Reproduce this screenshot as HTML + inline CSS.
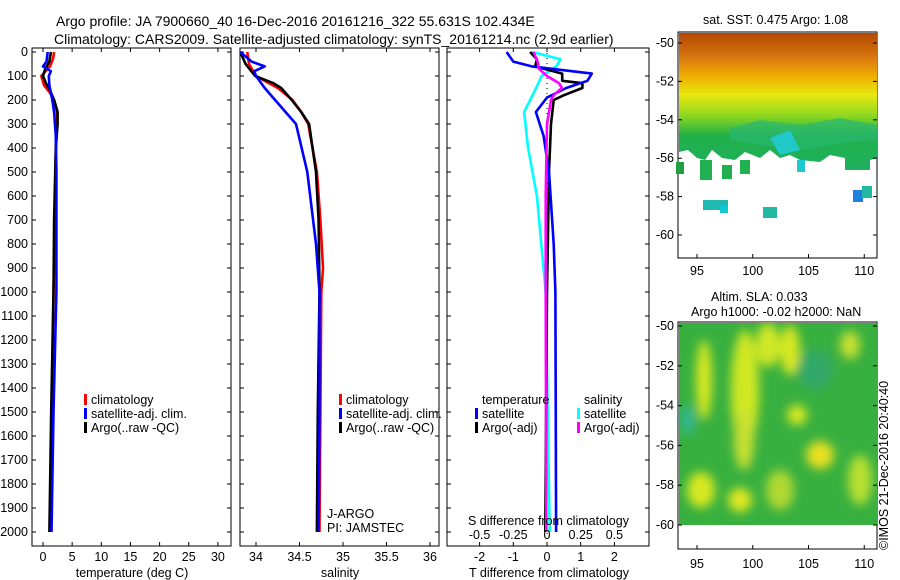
<!DOCTYPE html>
<html><head><meta charset="utf-8"><style>
html,body{margin:0;padding:0;background:#fff}
svg{display:block;font-family:"Liberation Sans",sans-serif}
text{font-size:12.5px;fill:#000}
</style></head><body>
<svg id="c" width="900" height="580" viewBox="0 0 900 580" xmlns="http://www.w3.org/2000/svg">
<defs>
<linearGradient id="sstg" x1="0" y1="0" x2="0" y2="1">
<stop offset="0" stop-color="#b44800"/><stop offset="0.18" stop-color="#d87810"/><stop offset="0.32" stop-color="#f0b000"/><stop offset="0.45" stop-color="#e8e810"/><stop offset="0.6" stop-color="#90d820"/><stop offset="0.75" stop-color="#20b048"/><stop offset="1" stop-color="#20b060"/>
</linearGradient>
<filter id="blur"><feGaussianBlur stdDeviation="5"/></filter>
<clipPath id="lowclip"><rect x="678" y="322" width="199" height="203"/></clipPath>
</defs>
<text x="56" y="26" style="font-size:14px">Argo profile: JA 7900660_40 16-Dec-2016 20161216_322 55.631S 102.434E</text>
<text x="54" y="44" style="font-size:14px">Climatology: CARS2009. Satellite-adjusted climatology: synTS_20161214.nc (2.9d earlier)</text>

<g id="p1"></g>
<g id="p2"></g>
<g id="p3"></g>

<g>
<text x="703" y="24">sat. SST: 0.475  Argo: 1.08</text>
<rect x="678" y="32" width="199" height="226" fill="#fff" stroke="#000"/>
<path d="M679,33 H877 V158 L870,160 V170 L845,170 V158 L830,155 L820,162 L800,160 L790,155 L780,158 L770,150 L760,158 L745,152 L735,160 L722,158 L712,150 L705,160 L697,158 L688,150 L679,152 Z" fill="url(#sstg)"/>
<path d="M730,128 L760,120 L800,125 L840,118 L877,125 L877,140 L850,142 L800,150 L760,145 L730,140 Z" fill="#28b870" opacity="0.7"/>
<path d="M770,138 L790,130 L800,150 L780,155 Z" fill="#20c8c8"/>
<rect x="703" y="200" width="25" height="10" fill="#20b8b0"/><rect x="720" y="205" width="8" height="8" fill="#10c8d0"/>
<rect x="763" y="207" width="14" height="11" fill="#20b8a0"/><rect x="853" y="190" width="10" height="12" fill="#2080e0"/><rect x="862" y="186" width="10" height="12" fill="#20b8a0"/>
<rect x="676" y="162" width="8" height="12" fill="#20a040"/><rect x="700" y="160" width="12" height="20" fill="#20b050"/><rect x="740" y="160" width="10" height="14" fill="#20b050"/>
<rect x="722" y="165" width="10" height="14" fill="#20b050"/><rect x="797" y="160" width="8" height="12" fill="#20c8d0"/>
</g>
<g>
<text x="711" y="301">Altim. SLA: 0.033</text>
<text x="691" y="316">Argo h1000: -0.02 h2000: NaN</text>
<rect x="678" y="322" width="199" height="227" fill="#fff" stroke="#000"/>
<rect x="679" y="323" width="198" height="202" fill="#38b040"/>
<g clip-path="url(#lowclip)" filter="url(#blur)">
<ellipse cx="704" cy="380" rx="8" ry="40" fill="#d8e820"/><ellipse cx="745" cy="390" rx="14" ry="60" fill="#d0e820"/>
<ellipse cx="768" cy="345" rx="12" ry="22" fill="#d0e828"/><ellipse cx="790" cy="350" rx="10" ry="25" fill="#d8e820"/>
<ellipse cx="744" cy="440" rx="10" ry="30" fill="#c8e030"/><ellipse cx="701" cy="490" rx="14" ry="18" fill="#d8e820"/>
<ellipse cx="740" cy="500" rx="12" ry="12" fill="#e0e820"/><ellipse cx="820" cy="455" rx="14" ry="14" fill="#e8e020"/>
<ellipse cx="797" cy="415" rx="10" ry="10" fill="#d8e820"/><ellipse cx="850" cy="345" rx="10" ry="14" fill="#c8e030"/>
<ellipse cx="860" cy="480" rx="12" ry="25" fill="#b8e030"/><ellipse cx="688" cy="420" rx="6" ry="15" fill="#30b8a0"/>
<ellipse cx="815" cy="370" rx="18" ry="20" fill="#30a868"/><ellipse cx="780" cy="490" rx="14" ry="20" fill="#b0d830"/>
</g>
</g>
<text transform="translate(888,550) rotate(-90)">©IMOS 21-Dec-2016 20:40:40</text>
<g id="maps"></g>
</svg>
<script>
const depthTicks=[0,100,200,300,400,500,600,700,800,900,1000,1100,1200,1300,1400,1500,1600,1700,1800,1900,2000];
const tempTicks=[0,5,10,15,20,25,30];
const salTicks=[34,34.5,35,35.5,36];
const dTTicks=[-2,-1,0,1,2];
const dSLabels=['-0.5','-0.25','0','0.25','0.5'];
const dSVals=[-0.5,-0.25,0,0.25,0.5];
const tClimD=[0,30,60,100,140,170,200,250,300,400,700,900,1000,1500,2000];
const tClimV=[1.9,1.7,1.2,-0.3,0.2,1.2,1.9,2.4,2.4,2.2,2.0,1.9,1.8,1.5,1.3];
const tSatD=[0,40,60,80,100,140,200,250,350,500,1000,1500,2000];
const tSatV=[0.8,0.6,0.0,1.35,1.0,1.1,1.6,1.9,2.2,2.3,2.3,1.8,1.45];
const tArgoD=[0,40,70,100,130,160,200,250,300,400,700,1000,1500,2000];
const tArgoV=[1.35,1.1,0.4,0.0,0.5,1.2,1.9,2.5,2.5,2.2,1.9,1.8,1.4,1.1];
const sClimD=[0,50,100,130,150,200,250,300,500,700,900,1000,1500,2000];
const sClimV=[33.9,33.92,34.0,34.15,34.25,34.42,34.52,34.6,34.7,34.74,34.77,34.75,34.74,34.73];
const sSatD=[0,40,60,80,100,150,200,300,500,800,1000,1500,2000];
const sSatV=[33.82,33.95,34.1,33.98,34.0,34.1,34.22,34.46,34.59,34.69,34.73,34.73,34.72];
const sArgoD=[0,50,100,130,150,200,250,300,500,700,1000,1500,2000];
const sArgoV=[33.82,33.88,33.99,34.2,34.29,34.41,34.52,34.61,34.69,34.72,34.73,34.71,34.70];
const dTSatD=[0,40,60,90,120,150,190,250,350,500,800,1000,2000];
const dTSatV=[-1.2,-1.0,-0.45,1.33,1.2,0.57,0.0,-0.33,-0.1,0.06,0.2,0.25,0.27];
const dTArgoD=[0,30,60,90,120,130,150,180,200,300,500,1000,2000];
const dTArgoV=[-0.5,-0.3,-0.35,0.45,0.45,1.05,1.05,0.5,0.2,0.12,0.06,0.0,-0.05];
const dSSatD=[0,30,60,100,150,250,400,600,1000,2000];
const dSSatV=[-0.11,0.1,0.07,-0.04,-0.08,-0.17,-0.14,-0.075,-0.01,0.02];
const dSArgoD=[0,40,70,100,130,150,180,200,300,600,1000,2000];
const dSArgoV=[-0.1,-0.07,-0.06,0.0,0.09,0.11,0.05,0.03,0.0,-0.01,-0.01,-0.005];

const NS='http://www.w3.org/2000/svg';
function mk(parent,tag,attrs,txt){const e=document.createElementNS(NS,tag);for(const k in attrs)e.setAttribute(k,attrs[k]);if(txt!==undefined)e.textContent=txt;parent.appendChild(e);return e;}
const yTop=52,yPx=0.24,axTop=48,axBot=546;
const yS=d=>yTop+d*yPx;
const xT=v=>43+v*5.83;
const xS=v=>256+(v-34)*87;
const xDT=v=>547+v*33.7;
const xDS=v=>547+v*134.8;

function frame(g,x0,x1){
  const r=mk(g,'rect',{x:x0,y:axTop,width:x1-x0,height:axBot-axTop,fill:'none',stroke:'#000','stroke-width':1});
  
  
  depthTicks.forEach(d=>{
    mk(g,'line',{x1:x0,x2:x0+4,y1:yS(d),y2:yS(d),stroke:'#000'});
    mk(g,'line',{x1:x1-4,x2:x1,y1:yS(d),y2:yS(d),stroke:'#000'});
  });
}
function xticks(g,vals,labels,fx){
  vals.forEach((v,i)=>{
    mk(g,'line',{x1:fx(v),x2:fx(v),y1:axBot,y2:axBot-4,stroke:'#000'});
    mk(g,'line',{x1:fx(v),x2:fx(v),y1:axTop,y2:axTop+4,stroke:'#000'});
    const t=mk(g,'text',{x:fx(v),y:561,'text-anchor':'middle'},labels[i]);
    
    
  });
}
function line(g,D,V,fx,color,name){
  const pts=D.map((d,i)=>fx(V[i]).toFixed(1)+','+yS(d).toFixed(1)).join(' ');
  const p=mk(g,'polyline',{points:pts,fill:'none',stroke:color,'stroke-width':2.6,'stroke-linejoin':'round'});
  
  
}
function legend(g,x,y,color,label){
  mk(g,'rect',{x:x,y:y-10,width:3,height:11,fill:color});
  const t=mk(g,'text',{x:x+7,y:y},label);
  
  
}
const p1=document.getElementById('p1'),p2=document.getElementById('p2'),p3=document.getElementById('p3');
frame(p1,32,231);frame(p2,240,439);frame(p3,447,649);
depthTicks.forEach(d=>{
  const t=mk(p1,'text',{x:28,y:yS(d)+4,'text-anchor':'end'},String(d));
  
  
});
xticks(p1,tempTicks,tempTicks.map(String),xT);
xticks(p2,salTicks,salTicks.map(String),xS);
xticks(p3,dTTicks,dTTicks.map(String),xDT);
[['temperature (deg C)',132,'x-axis-title-temperature',p1],['salinity',340,'x-axis-title-salinity',p2],['T difference from climatology',549,'x-axis-title-tdiff',p3]].forEach(a=>{
  const t=mk(a[3],'text',{x:a[1],y:577,'text-anchor':'middle'},a[0]);
  
  
});
line(p1,tClimD,tClimV,xT,'#f00','temp-climatology-line');
line(p1,tArgoD,tArgoV,xT,'#000','temp-argo-line');
line(p1,tSatD,tSatV,xT,'#00f','temp-satellite-line');
line(p2,sClimD,sClimV,xS,'#f00','sal-climatology-line');
line(p2,sArgoD,sArgoV,xS,'#000','sal-argo-line');
line(p2,sSatD,sSatV,xS,'#00f','sal-satellite-line');
mk(p3,'line',{x1:547,x2:547,y1:axTop,y2:axBot,stroke:'#000','stroke-dasharray':'1,4'});
line(p3,dSSatD,dSSatV,xDS,'#0ff','sdiff-satellite-line');
line(p3,dTArgoD,dTArgoV,xDT,'#000','tdiff-argo-line');
line(p3,dTSatD,dTSatV,xDT,'#00f','tdiff-satellite-line');
line(p3,dSArgoD,dSArgoV,xDS,'#f0f','sdiff-argo-line');
legend(p1,84,404,'#f00','climatology');legend(p1,84,418,'#00f','satellite-adj. clim.');legend(p1,84,432,'#000','Argo(..raw -QC)');
legend(p2,339,404,'#f00','climatology');legend(p2,339,418,'#00f','satellite-adj. clim.');legend(p2,339,432,'#000','Argo(..raw -QC)');
let t=mk(p3,'text',{x:482,y:404},'temperature');


t=mk(p3,'text',{x:584,y:404},'salinity');


legend(p3,475,418,'#00f','satellite');legend(p3,475,432,'#000','Argo(-adj)');
legend(p3,577,418,'#0ff','satellite');legend(p3,577,432,'#f0f','Argo(-adj)');
t=mk(p2,'text',{x:327,y:518},'J-ARGO');


t=mk(p2,'text',{x:327,y:532},'PI: JAMSTEC');


t=mk(p3,'text',{x:468,y:525},'S difference from climatology');


dSVals.forEach((v,i)=>{
  const e=mk(p3,'text',{x:xDS(v),y:539,'text-anchor':'middle'},dSLabels[i]);
  
  
});
const latTicks=[-50,-52,-54,-56,-58,-60];
const lonTicks=[95,100,105,110];
const mg=document.getElementById('maps');
const lonX=v=>697+(v-95)*11.15;
[[43,19.2,258,270],[326,19.9,549,563]].forEach(m=>{
  latTicks.forEach(l=>{
    const y=m[0]+(-50-l)*m[1];
    mk(mg,'line',{x1:873,x2:877,y1:y,y2:y,stroke:'#000'});
    mk(mg,'line',{x1:678,x2:682,y1:y,y2:y,stroke:'#000'});
    const e=mk(mg,'text',{x:674,y:y+4,'text-anchor':'end'},String(l));
    
    
  });
  lonTicks.forEach(l=>{
    mk(mg,'line',{x1:lonX(l),x2:lonX(l),y1:m[2],y2:m[2]-4,stroke:'#000'});
    const e=mk(mg,'text',{x:lonX(l),y:m[3]+5,'text-anchor':'middle'},String(l));
    
    
  });
});
</script>
</body></html>
